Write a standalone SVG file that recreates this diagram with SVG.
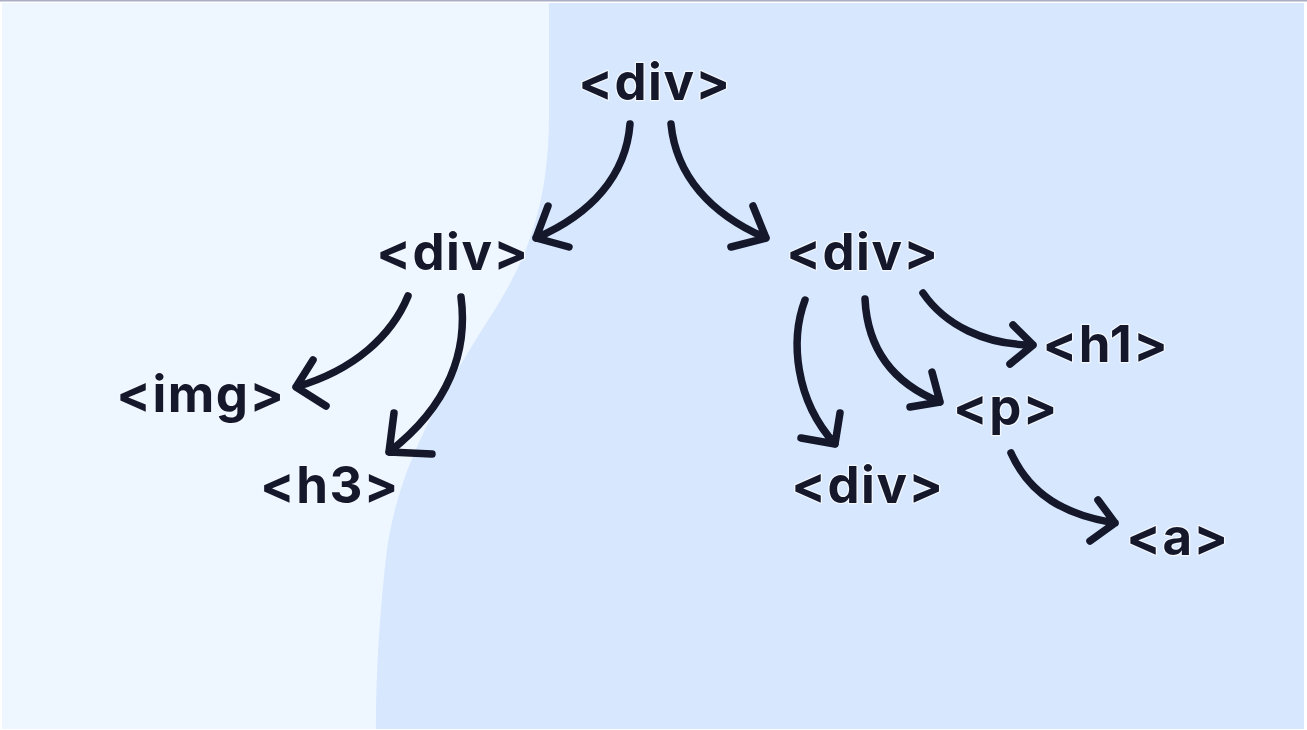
<svg xmlns="http://www.w3.org/2000/svg" width="1307" height="730" viewBox="0 0 1307 730">
<style>
.t{font-family:Inter,"Open Sans","Liberation Sans",sans-serif;font-weight:700;font-size:51px;letter-spacing:1.5px;fill:#15172b;text-anchor:middle;stroke:#f3f8ff;stroke-width:2.5px;paint-order:stroke;stroke-linejoin:round}
.c{fill:none;stroke:#15172b;stroke-width:7.5;stroke-linecap:round;stroke-linejoin:round}
</style>
<rect width="1307" height="730" fill="#ffffff"/>
<rect x="2" y="3" width="1302" height="726" fill="#eef6ff"/>
<path d="M549,3 L549,120 C548,210 525,265 485,325 C435,405 398,470 387,550 C379,615 376,680 376,729 L1304,729 L1304,3 Z" fill="#d6e7fe"/>
<rect x="0" y="0" width="1307" height="1.5" fill="#a9aec4"/>
<g id="connectors">
<path class="c" d="M630,124 C626,175 592,214 536,238 M548,206 L536,238 L569,247"/>
<path class="c" d="M671,124 C676,175 710,214 766,238 M753,206 L766,238 L731,247"/>
<path class="c" d="M408,296 C392,335 355,370 296,387 M313,360 L296,387 L326,406"/>
<path class="c" d="M461,297 C468,350 450,405 389,452 M394,413 L389,452 L432,454"/>
<path class="c" d="M805,300 C790,340 795,400 835,444 M840,413 L835,444 L801,438"/>
<path class="c" d="M865,299 C867,340 885,380 940,402 M932,372 L940,402 L910,407"/>
<path class="c" d="M923,293 C945,325 985,345 1033,345 M1013,325 L1033,345 L1010,364"/>
<path class="c" d="M1011,453 C1030,495 1065,515 1115,523 M1098,500 L1115,523 L1090,541"/>
</g>
<g id="n-root"><text class="t" x="655" y="100">&lt;div&gt;</text></g>
<g id="n-div-left"><text class="t" x="453" y="270">&lt;div&gt;</text></g>
<g id="n-div-right"><text class="t" x="863" y="270">&lt;div&gt;</text></g>
<g id="n-img"><text class="t" x="201" y="412">&lt;img&gt;</text></g>
<g id="n-h3"><text class="t" x="330" y="503">&lt;h3&gt;</text></g>
<g id="n-h1"><text class="t" x="1106" y="362">&lt;h1&gt;</text></g>
<g id="n-p"><text class="t" x="1006" y="425">&lt;p&gt;</text></g>
<g id="n-div-bottom"><text class="t" x="868" y="503">&lt;div&gt;</text></g>
<g id="n-a"><text class="t" x="1178" y="555">&lt;a&gt;</text></g>
</svg>
